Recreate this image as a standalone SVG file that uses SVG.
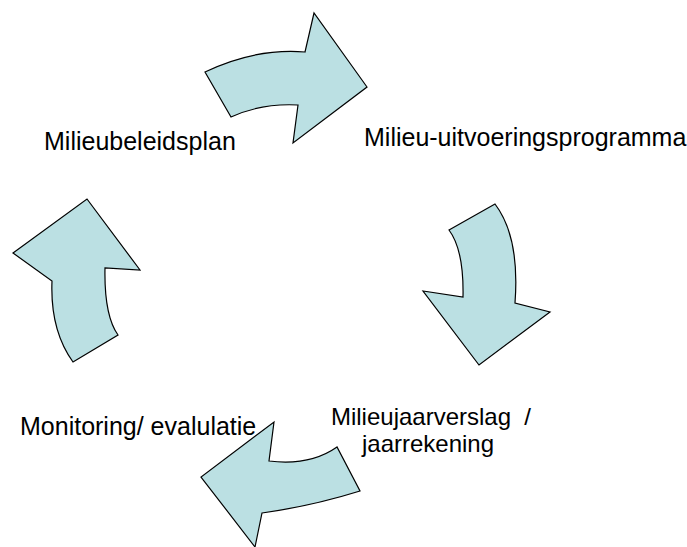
<svg xmlns="http://www.w3.org/2000/svg" width="687" height="547" viewBox="0 0 687 547">
<style>
.arrow{fill:#BBE0E3;stroke:#000;stroke-width:1.2;stroke-linejoin:miter}
.lbl{font-family:"Liberation Sans",Arial,sans-serif;font-size:25px;fill:#000;white-space:pre}
.sm{font-size:24px}
</style>
<rect width="687" height="547" fill="#fff"/>
<g id="connectors">
<path id="arrow-top" class="arrow" d="M 205,72 Q 255,48 305,52 L 314,13 L 367,87 L 293,143 L 298,105 Q 262,103 231,117 Z"/>
<path id="arrow-right" class="arrow" d="M 449,230 L 495,204 Q 520,237 515,303 L 550,312 L 479,365 L 423,291 L 463,297 Q 464,250 449,230 Z"/>
<path id="arrow-bottom" class="arrow" d="M 274,422 L 269,461 Q 310,466 337,447 L 360,491 Q 312,506 262,513 L 255,547 L 201,477 Z"/>
<path id="arrow-left" class="arrow" d="M 87,199 L 140,270 L 105,268 Q 104,315 118,335 L 73,362 Q 50,330 52,281 L 13,253 Z"/>
</g>
<g id="node-milieubeleidsplan"><text class="lbl" x="44" y="150">Milieubeleidsplan</text></g>
<g id="node-uitvoeringsprogramma"><text class="lbl" x="364" y="146">Milieu-uitvoeringsprogramma</text></g>
<g id="node-jaarverslag"><text class="lbl sm" text-anchor="middle" x="431" y="425">Milieujaarverslag  /</text><text class="lbl sm" text-anchor="middle" x="428" y="452">jaarrekening</text></g>
<g id="node-monitoring"><text class="lbl" x="20" y="435">Monitoring/ evalulatie</text></g>
</svg>
